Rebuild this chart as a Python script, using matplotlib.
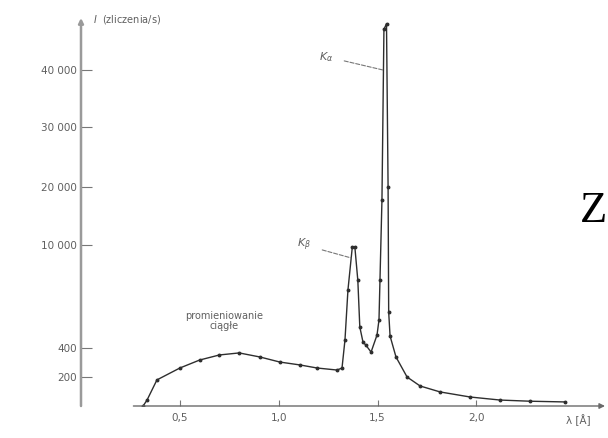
import matplotlib.pyplot as plt
import numpy as np

# X-ray tube spectrum (continuous radiation + K lines)
wavelength = [0.314, 0.334, 0.384, 0.50, 0.60, 0.70, 0.80, 0.905, 1.006, 1.108, 1.194,
              1.295, 1.32, 1.335, 1.35, 1.372, 1.385, 1.40, 1.41, 1.426, 1.44, 1.467,
              1.497, 1.507, 1.512, 1.522, 1.532, 1.545, 1.553, 1.556, 1.563, 1.593,
              1.649, 1.715, 1.816, 1.968, 2.12, 2.27, 2.448]
counts = [0, 41, 180, 262, 317, 352, 366, 338, 303, 283, 262,
          248, 262, 1150, 5800, 9800, 9800, 6700, 2360, 960, 680, 372,
          1610, 3010, 6740, 17760, 47000, 48000, 20000, 3760, 1520, 338,
          200, 138, 97, 62, 41, 33, 28]

y_ticks = [200, 400, 10000, 20000, 30000, 40000]
y_tick_labels = ['200', '400', '10 000', '20 000', '30 000', '40 000']
x_ticks = [0.5, 1.0, 1.5, 2.0]
x_tick_labels = ['0,5', '1,0', '1,5', '2,0']

# broken intensity axis: low part (0-400) stretched, upper part compressed
scale_vals = [0, 200, 400, 10000, 20000, 30000, 40000, 60000]
scale_disp = [0, 29, 58, 161, 219, 279, 336, 452]


def fwd(v):
    return np.interp(v, scale_vals, scale_disp)


def inv(d):
    return np.interp(d, scale_disp, scale_vals)


W, H = 608, 438


def px(x, y):
    return x / W, 1 - y / H


text_col = '#5f5f5f'
line_col = '#2e2e2e'

fig = plt.figure(figsize=(W / 100, H / 100), dpi=100)
ax = fig.add_axes([81 / W, (H - 406) / H, (605 - 81) / W, (406 - 18) / H])
ax.set_yscale('function', functions=(fwd, inv))
ax.set_xlim(0, 2.65)
ax.set_ylim(0, inv(388))

for s in ax.spines.values():
    s.set_visible(False)

ax.plot(wavelength, counts, color=line_col, lw=1.0, marker='o', ms=1.8,
        mfc=line_col, mec=line_col)

# axes drawn by hand, with arrows
ax.annotate('', xy=(0, 1), xytext=(0, 0), xycoords='axes fraction',
            arrowprops=dict(arrowstyle='-|>', color='#9a9a9a', lw=1.8,
                            mutation_scale=7, shrinkA=0, shrinkB=0))
ax.annotate('', xy=(1, 0), xytext=(0.1, 0), xycoords='axes fraction',
            arrowprops=dict(arrowstyle='-|>', color='#6a6a6a', lw=1.0,
                            mutation_scale=8, shrinkA=0, shrinkB=0))

ax.set_yticks(y_ticks)
ax.set_yticklabels(y_tick_labels)
ax.set_xticks(x_ticks)
ax.set_xticklabels(x_tick_labels)
ax.minorticks_off()
ax.tick_params(axis='y', direction='in', length=8, width=0.8, color='#777777',
               labelsize=7.5, labelcolor=text_col, pad=3)
ax.tick_params(axis='x', direction='in', length=4, width=0.8, color='#777777',
               labelsize=7.5, labelcolor=text_col, pad=5)

# line labels
ax.annotate(r'$K_{\alpha}$', xy=(1.527, 40000), xytext=(1.24, 42300),
            fontsize=8, color=text_col, ha='center', va='center',
            arrowprops=dict(arrowstyle='-', ls='--', color='#777777', lw=0.8,
                            shrinkA=6, shrinkB=0))
ax.annotate(r'$K_{\beta}$', xy=(1.365, 8800), xytext=(1.13, 10000),
            fontsize=8, color=text_col, ha='center', va='center',
            arrowprops=dict(arrowstyle='-', ls='--', color='#777777', lw=0.8,
                            shrinkA=6, shrinkB=0))

fig.text(*px(224, 321), 'promieniowanie\nciągłe', fontsize=7, color=text_col,
         ha='center', va='center', linespacing=1.0)
fig.text(*px(93, 20), r'$I$  (zliczenia/s)', fontsize=7, color=text_col,
         ha='left', va='center')
fig.text(*px(578, 420), 'λ [Å]', fontsize=7.5, color=text_col,
         ha='center', va='center')
fig.text(*px(580, 222), 'Z', fontsize=32, family='Liberation Serif',
         color='black', ha='left', va='baseline')

fig.savefig('out.png', dpi=100, facecolor='white')
